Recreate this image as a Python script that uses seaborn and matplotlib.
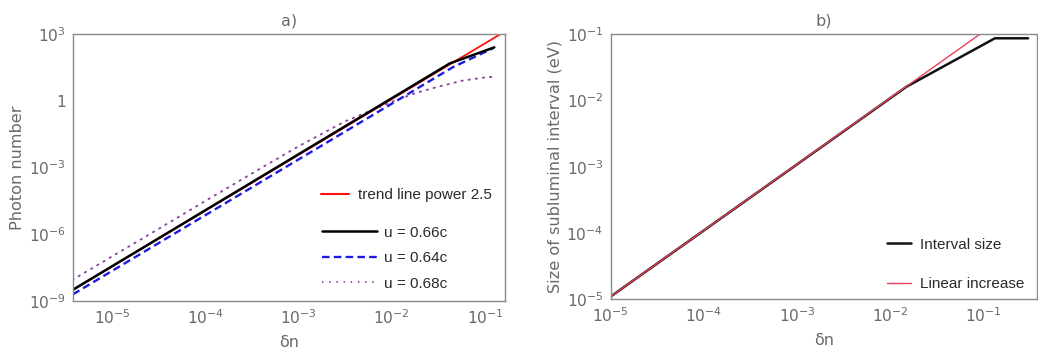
import numpy as np
import pandas as pd
import matplotlib
matplotlib.use("Agg")
import matplotlib.pyplot as plt
from matplotlib.ticker import FixedLocator, FixedFormatter, NullLocator
from matplotlib.lines import Line2D
import seaborn as sns

# ---- panel a: photon number vs δn ----
trend_dn = [3.75e-6, 0.17]
trend_n = [3.2e-9, 1430.0]

u066_dn = [3.75e-6, 0.042, 0.126]
u066_n = [3.2e-9, 48.0, 251.0]

u064_dn = [3.75e-6, 0.045, 0.122]
u064_n = [2.0e-9, 32.0, 229.0]

u068_dn = [3.7e-6, 3.16e-5, 1e-4, 3.16e-4, 1e-3, 3.16e-3, 1e-2, 0.0178, 0.0316, 0.0562, 0.1, 0.126]
u068_n = [8.9e-9, 1.8e-6, 3.2e-5, 5.5e-4, 9.1e-3, 0.12, 0.89, 2.2, 4.3, 7.9, 11.2, 12.0]

a_xticks = [1e-5, 1e-4, 1e-3, 1e-2, 1e-1]
a_xticklabels = [r"$10^{-5}$", r"$10^{-4}$", r"$10^{-3}$", r"$10^{-2}$", r"$10^{-1}$"]
a_yticks = [1e-9, 1e-6, 1e-3, 1, 1e3]
a_yticklabels = [r"$10^{-9}$", r"$10^{-6}$", r"$10^{-3}$", "1", r"$10^{3}$"]

# ---- panel b: size of subluminal interval vs δn ----
interval_dn = [1e-5, 0.0149, 0.132, 0.30]
interval_ev = [1.1e-5, 0.0162, 0.087, 0.087]

linear_dn = [1e-5, 0.1]
linear_ev = [1.1e-5, 0.11]

b_xticks = [1e-5, 1e-4, 1e-3, 1e-2, 1e-1]
b_xticklabels = [r"$10^{-5}$", r"$10^{-4}$", r"$10^{-3}$", r"$10^{-2}$", r"$10^{-1}$"]
b_yticks = [1e-5, 1e-4, 1e-3, 1e-2, 1e-1]
b_yticklabels = [r"$10^{-5}$", r"$10^{-4}$", r"$10^{-3}$", r"$10^{-2}$", r"$10^{-1}$"]

sns.set_style("white")
plt.rcParams["font.family"] = ["DejaVu Sans"]
plt.rcParams["mathtext.fontset"] = "dejavusans"

GRAY = "#6a6a6a"
SPINE = "#8a8a8a"
TXT = "#2a2a2a"

fig = plt.figure(figsize=(10.38, 3.56), dpi=100)
ax_a = fig.add_axes([0.0703, 0.1545, 0.4162, 0.7500])
ax_b = fig.add_axes([0.5883, 0.1593, 0.4107, 0.7444])


def style_axes(ax, xticks, xlabels, yticks, ylabels):
    ax.set_xscale("log")
    ax.set_yscale("log")
    ax.xaxis.set_major_locator(FixedLocator(xticks))
    ax.xaxis.set_major_formatter(FixedFormatter(xlabels))
    ax.yaxis.set_major_locator(FixedLocator(yticks))
    ax.yaxis.set_major_formatter(FixedFormatter(ylabels))
    ax.xaxis.set_minor_locator(NullLocator())
    ax.yaxis.set_minor_locator(NullLocator())
    ax.tick_params(axis="both", which="major", direction="in", length=4,
                   width=0.9, color=SPINE, labelcolor=GRAY, labelsize=11.2,
                   pad=5, top=False, right=False)
    for sp in ax.spines.values():
        sp.set_color(SPINE)
        sp.set_linewidth(1.0)


def draw(ax, xs, ys, **kw):
    df = pd.DataFrame({"x": xs, "y": ys})
    sns.lineplot(data=df, x="x", y="y", ax=ax, estimator=None, sort=False,
                 legend=False, **kw)


# panel a
style_axes(ax_a, a_xticks, a_xticklabels, a_yticks, a_yticklabels)
draw(ax_a, trend_dn, trend_n, color="#ff1010", linewidth=1.3)
draw(ax_a, u068_dn, u068_n, color="#8a4a9e", linewidth=1.4,
     linestyle=(0, (0.7, 3.0)), dash_capstyle="round")
draw(ax_a, u064_dn, u064_n, color="#1c1ce0", linewidth=1.7,
     linestyle=(0, (3.2, 1.8)))
draw(ax_a, u066_dn, u066_n, color="black", linewidth=1.8)
ax_a.set_xlim(3.75e-6, 0.164)
ax_a.set_ylim(1e-9, 1e3)
ax_a.set_xlabel("δn", color=GRAY, fontsize=11.5, labelpad=6)
ax_a.set_ylabel("Photon number", color=GRAY, fontsize=11.6, labelpad=3)
ax_a.set_title("a)", color=GRAY, fontsize=11.5, pad=6)

leg_font = {"family": "Liberation Sans", "size": 11}
h_trend = [Line2D([], [], color="#ff1010", linewidth=1.5)]
leg1 = ax_a.legend(h_trend, ["trend line power 2.5"], loc="upper left",
                   bbox_to_anchor=(0.56, 0.445), frameon=False, prop=leg_font,
                   handlelength=1.8, handletextpad=0.6, borderaxespad=0,
                   labelcolor=TXT)
ax_a.add_artist(leg1)
h_u = [Line2D([], [], color="black", linewidth=1.8),
       Line2D([], [], color="#1c1ce0", linewidth=1.7, linestyle=(0, (3.2, 1.8))),
       Line2D([], [], color="#8a4a9e", linewidth=1.4, linestyle=(0, (0.7, 3.0)))]
ax_a.legend(h_u, ["u = 0.66c", "u = 0.64c", "u = 0.68c"], loc="upper left",
            bbox_to_anchor=(0.563, 0.305), frameon=False, prop=leg_font,
            handlelength=3.6, handletextpad=0.45, labelspacing=0.75,
            borderaxespad=0, labelcolor=TXT)

# panel b
style_axes(ax_b, b_xticks, b_xticklabels, b_yticks, b_yticklabels)
draw(ax_b, interval_dn, interval_ev, color="#111111", linewidth=1.8)
draw(ax_b, linear_dn, linear_ev, color="#e8405a", linewidth=1.0)
ax_b.set_xlim(1e-5, 0.373)
ax_b.set_ylim(1e-5, 1e-1)
ax_b.set_xlabel("δn", color=GRAY, fontsize=11.5, labelpad=6)
ax_b.set_ylabel("Size of subluminal interval (eV)", color=GRAY, fontsize=11.6,
                labelpad=3)
ax_b.set_title("b)", color=GRAY, fontsize=11.5, pad=6)

h_b = [Line2D([], [], color="#111111", linewidth=1.8),
       Line2D([], [], color="#e8405a", linewidth=1.0)]
ax_b.legend(h_b, ["Interval size", "Linear increase"], loc="upper left",
            bbox_to_anchor=(0.633, 0.255), frameon=False, prop=leg_font,
            handlelength=1.6, handletextpad=0.6, labelspacing=1.65,
            borderaxespad=0, labelcolor=TXT)

fig.savefig("out.png", dpi=100)
